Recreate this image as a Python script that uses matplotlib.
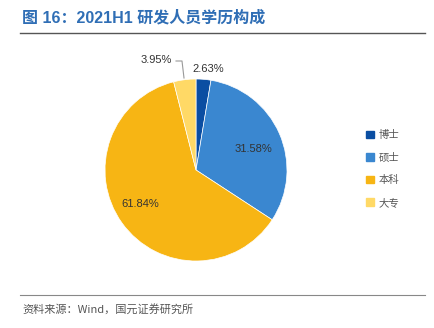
import numpy as np
import matplotlib.pyplot as plt

plt.rcParams['font.family'] = ['Noto Sans CJK SC', 'DejaVu Sans']

categories = ["博士", "硕士", "本科", "大专"]
shares = [2.63, 31.58, 61.84, 3.95]
colors = ["#0B4EA2", "#3A87D0", "#F7B514", "#FFD966"]

W, H = 435, 328
fig = plt.figure(figsize=(W / 100, H / 100), dpi=100)

# title and rules
fig.text(22 / W, 1 - 18 / H, "图 16：2021H1 研发人员学历构成", color="#2F6EB5",
         fontsize=11.5, fontweight="bold", va="center", ha="left",
         family=["Liberation Sans", "Noto Sans CJK SC"])
fig.add_artist(plt.Line2D([20 / W, 425 / W], [1 - 33 / H, 1 - 33 / H], color="#555555", lw=1.0))
fig.add_artist(plt.Line2D([20 / W, 425 / W], [1 - 295 / H, 1 - 295 / H], color="#888888", lw=0.8))
fig.text(22 / W, 1 - 309 / H, "资料来源：Wind，国元证券研究所", color="#555555",
         fontsize=8, va="center", ha="left")

# pie axis: center (196,170), radius ~91 px
r = 91
ax = fig.add_axes([(196 - r) / W, 1 - (170 + r) / H, 2 * r / W, 2 * r / H])
wedges, _ = ax.pie(shares, colors=colors, startangle=90, counterclock=False,
                   wedgeprops=dict(linewidth=0.5, edgecolor="white"))
ax.set_aspect("equal")
ax.set_xlim(-1, 1)
ax.set_ylim(-1, 1)
ax.axis("off")

# labels
lbl = dict(fontsize=8, color="#333333", ha="center", va="center", family="Liberation Sans")
fig.text(253 / W, 1 - 149 / H, f"{shares[1]:.2f}%", **lbl)
fig.text(140 / W, 1 - 204 / H, f"{shares[2]:.2f}%", **lbl)
fig.text(208 / W, 1 - 69 / H, f"{shares[0]:.2f}%", **lbl)
fig.text(156 / W, 1 - 60 / H, f"{shares[3]:.2f}%", **lbl)
fig.add_artist(plt.Line2D([176 / W, 182 / W, 184 / W], [1 - 61 / H, 1 - 61 / H, 1 - 78 / H],
                          color="#999999", lw=0.8))

# legend
handles = [plt.Rectangle((0, 0), 1, 1, color=c) for c in colors]
fig.legend(handles, categories, loc="center left", bbox_to_anchor=(357 / W, 1 - 169 / H),
           frameon=False, fontsize=7.5, handlelength=0.75, handleheight=0.75,
           labelspacing=1.2, handletextpad=0.4, labelcolor="#555555")

fig.savefig("out.png", dpi=100)
